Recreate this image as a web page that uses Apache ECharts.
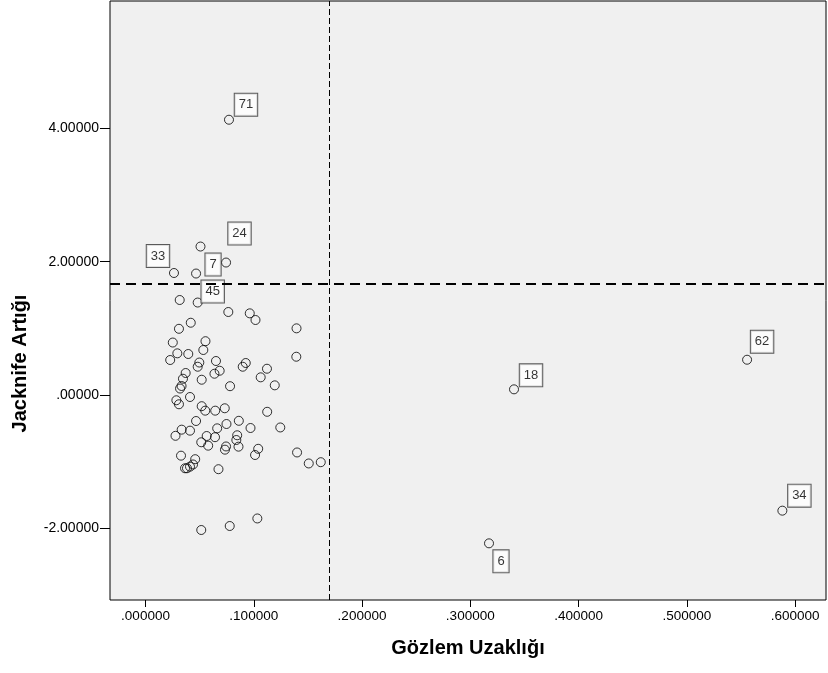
<!DOCTYPE html>
<html>
<head>
<meta charset="utf-8">
<script src="https://cdn.jsdelivr.net/npm/echarts@6/dist/echarts.min.js"></script>
<style>
html, body { margin: 0; padding: 0; background: #fff; }
#chart { width: 828px; height: 673px; }
</style>
</head>
<body>
<div id="chart"></div>
<script>
// Gözlem uzaklığı (x) ve jackknife artığı (y)
var distance = [
	0.0771, 0.0508, 0.0744, 0.0263, 0.0467, 0.0482, 0.0316, 0.0765, 0.0963, 0.1016,
	0.0418, 0.0309, 0.1395, 0.0554, 0.0252, 0.0534, 0.0294, 0.0395, 0.0228, 0.1393,
	0.0651, 0.0497, 0.0926, 0.0482, 0.0898, 0.1122, 0.0371, 0.0637, 0.0685, 0.0346,
	0.0519, 0.1064, 0.1194, 0.0333, 0.0781, 0.0319, 0.0285, 0.0309, 0.0411, 0.0519,
	0.0552, 0.0644, 0.0732, 0.1124, 0.0467, 0.0862, 0.0748, 0.0970, 0.1245, 0.0662,
	0.0334, 0.0411, 0.0277, 0.0565, 0.0642, 0.0847, 0.0839, 0.0515, 0.0579, 0.0744,
	0.0734, 0.0859, 0.1041, 0.1012, 0.1400, 0.1508, 0.1619, 0.0328, 0.0459, 0.0439,
	0.0411, 0.0383, 0.0365, 0.0674, 0.1033, 0.0778, 0.0515, 0.3404, 0.5557, 0.5883,
	0.3173
];
var residual = [
	4.129, 2.227, 1.987, 1.830, 1.822, 1.387, 1.425, 1.245, 1.225, 1.125,
	1.084, 0.993, 1.000, 0.807, 0.787, 0.675, 0.625, 0.615, 0.525, 0.574,
	0.510, 0.487, 0.480, 0.424, 0.424, 0.394, 0.330, 0.319, 0.364, 0.244,
	0.229, 0.265, 0.145, 0.135, 0.132, 0.097, -0.079, -0.139, -0.030, -0.168,
	-0.235, -0.235, -0.199, -0.252, -0.390, -0.387, -0.435, -0.495, -0.487, -0.500,
	-0.520, -0.535, -0.612, -0.615, -0.633, -0.604, -0.675, -0.709, -0.760, -0.772,
	-0.820, -0.775, -0.807, -0.900, -0.862, -1.027, -1.008, -0.910, -0.963, -1.042,
	-1.075, -1.099, -1.099, -1.113, -1.852, -1.965, -2.025, 0.085, 0.529, -1.735,
	-2.225
];
// etiketli gözlemler: nokta sırası -> gözlem numarası
var caseIndex = [0, 1, 2, 3, 5, 77, 78, 79, 80];
var caseNo = ['71', '24', '7', '33', '45', '18', '62', '34', '6'];

var xTicks = [0, 0.1, 0.2, 0.3, 0.4, 0.5, 0.6];
var yTicks = [-2, 0, 2, 4];
var cutX = 0.1723;
var cutY = 1.665;

var labelOffset = {
	'71': [17, -15], '24': [39, -13], '7': [-13, 2], '33': [-16, -17], '45': [15, -11],
	'18': [17, -14], '62': [15, -18], '34': [17, -15], '6': [12, 18]
};

function fmt(v, d) {
	var s = Number(v).toFixed(d);
	return s.replace(/^(-?)0\./, '$1.');
}

var points = [];
for (var i = 0; i < distance.length; i++) {
	var item = { value: [distance[i], residual[i]] };
	var k = caseIndex.indexOf(i);
	if (k >= 0) {
		item.label = {
			show: true,
			formatter: caseNo[k],
			position: 'inside',
			offset: labelOffset[caseNo[k]]
		};
	}
	points.push(item);
}

var font = 'Liberation Sans, Arial, sans-serif';

var chart = echarts.init(document.getElementById('chart'));
chart.setOption({
	animation: false,
	backgroundColor: '#fff',
	grid: {
		left: 110, right: 2, top: 1, bottom: 73,
		show: true,
		backgroundColor: '#f0f0f0',
		borderColor: '#000',
		borderWidth: 1
	},
	xAxis: {
		type: 'value',
		min: -0.0328, max: 0.6286,
		name: 'Gözlem Uzaklığı',
		nameLocation: 'middle',
		nameGap: 38,
		nameTextStyle: { fontFamily: font, fontSize: 20, fontWeight: 'bold', color: '#000' },
		axisLine: { show: false, onZero: false },
		splitLine: { show: false },
		axisTick: { show: true, length: 7, customValues: xTicks, lineStyle: { color: '#000' } },
		axisLabel: {
			customValues: xTicks,
			fontFamily: font, fontSize: 13.5, color: '#000', margin: 9,
			formatter: function(v) { return fmt(v, 6); }
		}
	},
	yAxis: {
		type: 'value',
		min: -3.075, max: 5.91,
		name: 'Jacknife Artığı',
		nameLocation: 'middle',
		nameGap: 80,
		nameTextStyle: { fontFamily: font, fontSize: 20, fontWeight: 'bold', color: '#000', padding: [0, 126, 0, 0] },
		axisLine: { show: false, onZero: false },
		splitLine: { show: false },
		axisTick: { show: true, length: 10, customValues: yTicks, lineStyle: { color: '#000' } },
		axisLabel: {
			customValues: yTicks,
			fontFamily: font, fontSize: 14, color: '#000', margin: 11,
			formatter: function(v) { return fmt(v, 5); }
		}
	},
	series: [{
		type: 'scatter',
		data: points,
		symbol: 'circle',
		symbolSize: 9,
		itemStyle: { color: 'rgba(0,0,0,0)', borderColor: '#000', borderWidth: 1 },
		label: {
			fontFamily: font, fontSize: 13, color: '#000',
			backgroundColor: '#fff', borderColor: '#333', borderWidth: 1,
			padding: [5, 4, 4, 4]
		},
		markLine: {
			silent: true,
			symbol: 'none',
			label: { show: false },
			data: [
				{ xAxis: cutX, lineStyle: { color: '#000', width: 1, type: [6, 3] } },
				{ yAxis: cutY, lineStyle: { color: '#000', width: 2, type: [10, 6] } }
			]
		}
	}]
});
</script>
</body>
</html>
